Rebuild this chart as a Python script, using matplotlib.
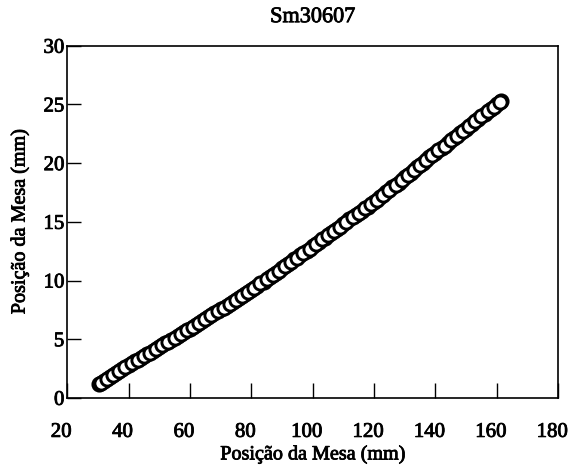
import matplotlib
matplotlib.use("Agg")
import matplotlib.pyplot as plt
import matplotlib.patheffects as pe
from matplotlib.transforms import ScaledTranslation

# table position readings (mm) -- two interleaved passes
pass1_x = [30.5, 32, 34, 36, 38, 40, 42, 44, 46, 48, 50, 52, 54, 56, 58,
           60, 62, 64, 66, 68, 70, 72, 74, 76, 78, 80, 82, 84, 86, 88,
           90, 92, 94, 96, 98, 100, 102, 104, 106, 108, 110, 112, 114, 116, 118,
           120, 122, 124, 126, 128, 130, 132, 134, 136, 138, 140, 142, 144, 146, 148,
           150, 152, 154, 156, 158, 160, 161.5]
pass1_y = [1.2, 1.45, 1.8, 2.1, 2.45, 2.8, 3.1, 3.4, 3.7, 4.0, 4.35, 4.65, 4.95, 5.3, 5.6,
           5.9, 6.25, 6.55, 6.9, 7.2, 7.55, 7.85, 8.2, 8.5, 8.85, 9.2, 9.55, 9.9, 10.3, 10.65,
           11.05, 11.4, 11.8, 12.15, 12.55, 12.9, 13.3, 13.65, 14.05, 14.4, 14.8, 15.2, 15.55, 15.95, 16.3,
           16.7, 17.1, 17.5, 17.95, 18.35, 18.8, 19.2, 19.65, 20.05, 20.5, 20.9, 21.3, 21.7, 22.15, 22.55,
           22.95, 23.35, 23.75, 24.2, 24.6, 25.0, 25.3]
pass2_x = [31, 33, 35, 37, 39, 41, 43, 45, 47, 49, 51, 53, 55, 57, 59,
           61, 63, 65, 67, 69, 71, 73, 75, 77, 79, 81, 83, 85, 87, 89,
           91, 93, 95, 97, 99, 101, 103, 105, 107, 109, 111, 113, 115, 117, 119,
           121, 123, 125, 127, 129, 131, 133, 135, 137, 139, 141, 143, 145, 147, 149,
           151, 153, 155, 157, 159, 161]
pass2_y = [1.3, 1.6, 1.95, 2.3, 2.6, 2.95, 3.25, 3.55, 3.85, 4.2, 4.5, 4.8, 5.1, 5.45, 5.75,
           6.05, 6.4, 6.7, 7.05, 7.4, 7.7, 8.0, 8.35, 8.7, 9.0, 9.4, 9.75, 10.1, 10.5, 10.85,
           11.2, 11.6, 11.95, 12.35, 12.7, 13.1, 13.5, 13.85, 14.25, 14.6, 15.0, 15.4, 15.75, 16.15, 16.5,
           16.9, 17.3, 17.75, 18.15, 18.6, 19.0, 19.45, 19.85, 20.3, 20.7, 21.1, 21.5, 21.95, 22.35, 22.75,
           23.15, 23.55, 24.0, 24.4, 24.8, 25.2]

x_ticks = [20, 40, 60, 80, 100, 120, 140, 160, 180]
y_ticks = [0, 5, 10, 15, 20, 25, 30]

plt.rcParams["font.family"] = ["Liberation Serif", "DejaVu Serif"]
# thicken the glyphs a touch, like the scanned print
heavy = [pe.withStroke(linewidth=0.6, foreground="black")]

fig = plt.figure(figsize=(5.69, 4.67), dpi=100)
ax = fig.add_axes([0.118, 0.148, 0.863, 0.754])

style = dict(linestyle="none", marker="o", markersize=9.5,
             markerfacecolor="white", markeredgecolor="black", markeredgewidth=2.1)
ax.plot(pass1_x, pass1_y, **style)
ax.plot(pass2_x, pass2_y, **style)

ax.set_xlim(20, 180)
ax.set_ylim(0, 30)
ax.set_xticks(x_ticks)
ax.set_yticks(y_ticks)
ax.tick_params(axis="x", direction="in", length=11, width=1, pad=18,
               labelsize=15)
ax.tick_params(axis="y", direction="in", length=10, width=1, pad=2,
               labelsize=15)
# the scanned x labels sit a little left of their ticks
shift = ScaledTranslation(-6 / 100, 0, fig.dpi_scale_trans)
for lab in ax.get_xticklabels():
    lab.set_transform(lab.get_transform() + shift)
for lab in ax.get_xticklabels() + ax.get_yticklabels():
    lab.set_path_effects(heavy)
for s in ax.spines.values():
    s.set_linewidth(1.2)

ax.set_title("Sm30607", fontsize=16, pad=17, path_effects=heavy)
ax.set_xlabel("Posição da Mesa (mm)", fontsize=14.5, labelpad=2,
              path_effects=heavy)
ax.set_ylabel("Posição da Mesa (mm)", fontsize=14.5, labelpad=10,
              path_effects=heavy)

fig.savefig("out.png", dpi=100)
